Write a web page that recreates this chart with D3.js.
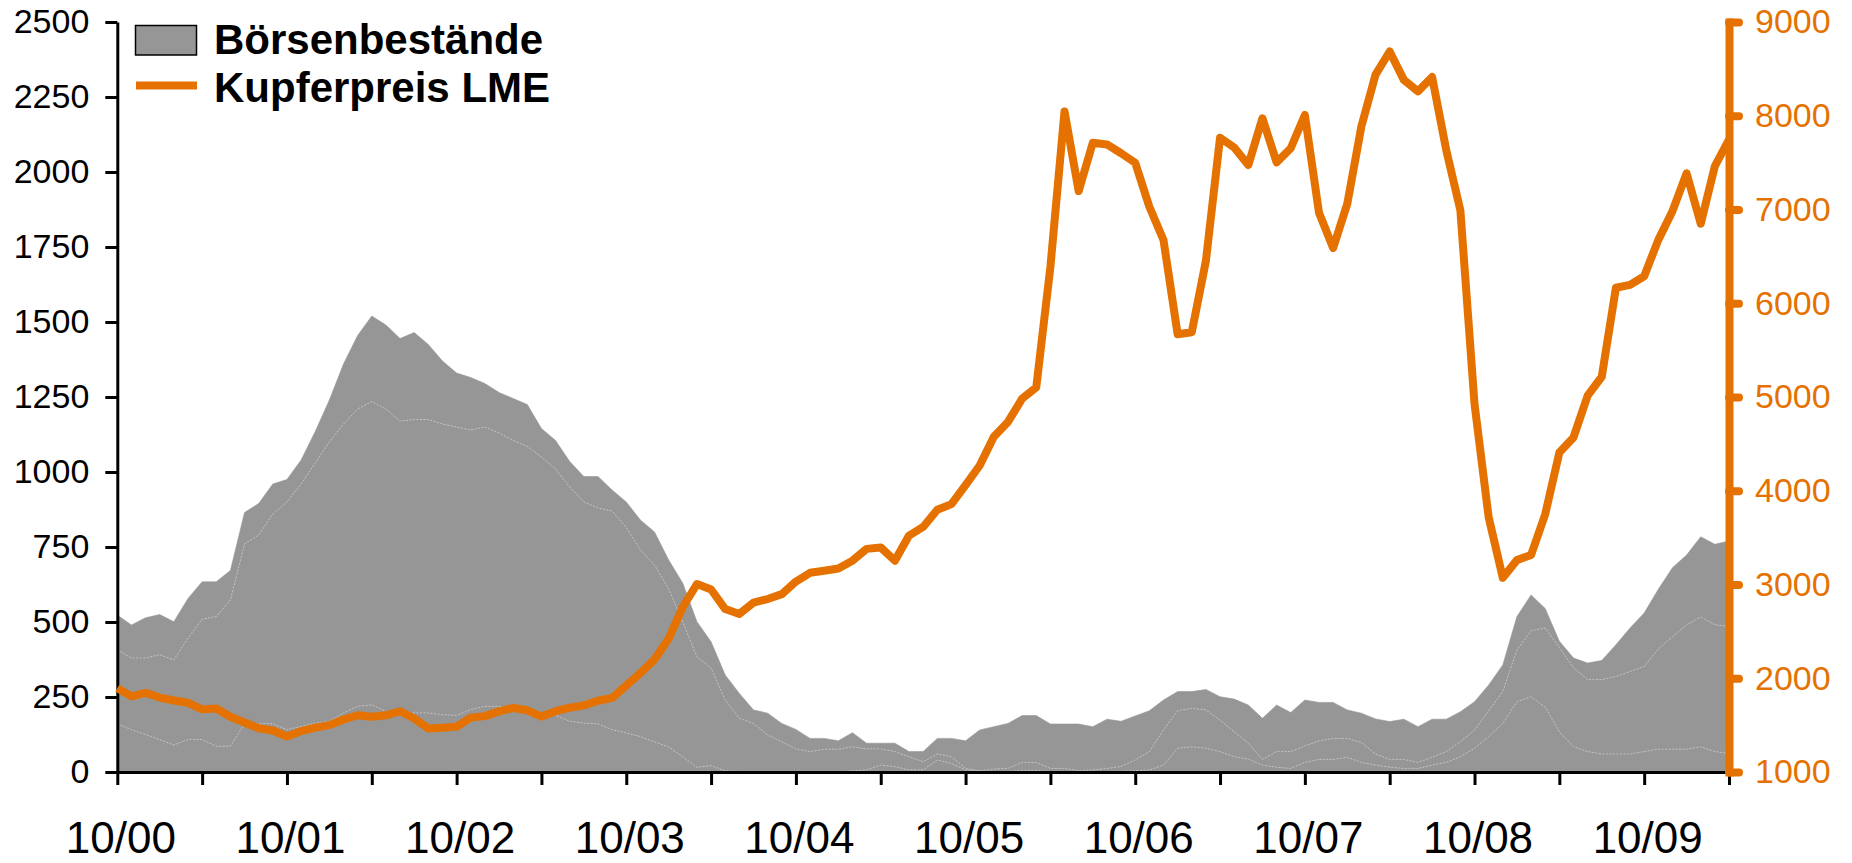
<!DOCTYPE html>
<html><head><meta charset="utf-8">
<script src="https://cdn.jsdelivr.net/npm/d3@7"></script>
<style>
html,body{margin:0;padding:0;background:#fff;}
svg{display:block;}
</style>
</head><body>
<svg id="chart" width="1852" height="863"></svg>
<script>
// ---------------- DATA ----------------
// monthly observations, October 2000 (index 0) to April 2010 (index 114)
const xTickLabels = ["10/00","10/01","10/02","10/03","10/04","10/05","10/06","10/07","10/08","10/09"];
const leftTicks = [0,250,500,750,1000,1250,1500,1750,2000,2250,2500];
const rightTicks = [1000,2000,3000,4000,5000,6000,7000,8000,9000];
const seriesNames = ["Börsenbestände","Kupferpreis LME"];

// Kupferpreis LME (USD/t, right axis)
const price = [1895,1807,1845,
1794,1763,1738,1668,1678,1590,1528,1467,1442,1379,1436,1473,
1500,1560,1605,1590,1605,1648,1570,1464,1471,1484,1580,1596,
1647,1683,1658,1591,1649,1686,1711,1760,1790,1922,2055,2201,
2423,2760,3005,2947,2738,2686,2807,2845,2897,3031,3125,3146,
3170,3254,3380,3395,3254,3522,3614,3797,3857,4059,4269,4576,
4734,4982,5103,6387,8046,7197,7712,7694,7600,7499,7029,6675,
5670,5690,6452,7766,7662,7475,7973,7503,7653,8008,6965,6589,
7061,7888,8439,8685,8383,8260,8414,7634,6990,4926,3717,3072,
3260,3315,3750,4407,4569,5014,5216,6165,6196,6288,6676,6982,
7386,6848,7463,7745];

// Börsenbestände (left axis), cumulative levels of the three stacked bands
const stocksLower = [161,141,125,108,90,108,108,86,86,161,
161,161,141,152,163,169,197,219,224,202,
197,197,197,191,189,208,219,219,210,197,
185,189,169,163,161,141,130,118,100,84,
50,16,21,4,2,0,0,0,0,0,
0,0,4,7,23,18,7,7,40,29,
7,3,2,2,5,5,2,2,0,0,
0,2,4,7,23,79,84,79,68,51,
43,23,16,12,32,42,42,49,32,23,
16,12,12,23,32,51,79,118,162,234,
251,216,134,84,68,60,60,60,68,76,
76,76,84,68,62];
const stocksUpper = [407,380,380,391,374,446,509,518,573,760,
790,860,900,960,1030,1100,1160,1210,1235,1210,
1170,1175,1175,1160,1150,1140,1150,1130,1105,1085,
1050,1010,950,900,880,870,815,740,690,610,
500,384,346,240,179,162,123,101,77,68,
76,76,84,77,77,68,51,34,60,51,
12,4,10,12,32,32,12,12,4,7,
12,18,40,68,140,204,212,207,173,134,
96,42,68,68,87,104,112,112,98,60,
42,42,32,49,68,101,140,204,268,407,
471,480,415,347,308,308,318,335,352,410,
451,490,517,491,485];
const stocksTotal = [523,490,514,525,501,578,634,634,672,865,
895,960,975,1040,1135,1240,1360,1455,1520,1490,
1445,1465,1425,1370,1330,1315,1295,1265,1245,1225,
1145,1105,1035,985,985,940,900,840,800,707,
629,501,434,323,262,207,196,162,142,112,
112,104,131,96,96,96,68,68,112,112,
104,140,151,162,188,188,160,160,160,151,
176,169,187,204,240,268,268,275,251,243,
223,179,223,198,240,232,232,207,196,177,
168,176,151,176,176,201,234,290,357,518,
590,545,436,380,363,372,424,480,530,609,
681,723,784,759,770];

// ---------------- STYLE ----------------
const FONT = '"Liberation Sans", Arial, Helvetica, sans-serif';
const GRAY = "#969696";
const ORANGE = "#E57200";
const M = {left:117.3, right:1729, top:22, bottom:772};

const svg = d3.select("#chart");
const x = d3.scaleLinear().domain([0, price.length - 1]).range([M.left, M.right]);
const yL = d3.scaleLinear().domain([0, 2500]).range([M.bottom, M.top]);
const yR = d3.scaleLinear().domain([1000, 9000]).range([M.bottom, M.top]);

// stacked bands
const rows = price.map((_, i) => ({
  i,
  a: stocksLower[i],
  b: stocksUpper[i] - stocksLower[i],
  c: stocksTotal[i] - stocksUpper[i]
}));
const stacked = d3.stack().keys(["a","b","c"])(rows);
const area = d3.area().x(d => x(d.data.i)).y0(d => yL(d[0])).y1(d => yL(d[1]));
svg.append("g").selectAll("path").data(stacked).join("path")
  .attr("d", area).attr("fill", GRAY).attr("stroke", GRAY).attr("stroke-width", 0.6);
const bound = d3.line().x(d => x(d.data.i)).y(d => yL(d[1]));
svg.append("g").selectAll("path").data(stacked.slice(0, 2)).join("path")
  .attr("d", bound).attr("fill", "none").attr("stroke", "#c2c2c2")
  .attr("stroke-width", 1).attr("stroke-dasharray", "2,1.5");

// left axis
const axL = svg.append("g").attr("transform", `translate(${M.left},0)`)
  .call(d3.axisLeft(yL).tickValues(leftTicks).tickFormat(d3.format("d"))
    .tickSize(12).tickSizeOuter(0).tickPadding(16));
axL.attr("font-family", FONT).attr("font-size", 34);
axL.select(".domain").attr("stroke", "#000").attr("stroke-width", 3);
axL.selectAll(".tick line").attr("stroke", "#000").attr("stroke-width", 3);
axL.selectAll(".tick text").attr("fill", "#000");

// bottom axis
const axB = svg.append("g").attr("transform", `translate(0,${M.bottom})`)
  .call(d3.axisBottom(x).tickValues(d3.range(0, price.length, 6)).tickSize(13).tickSizeOuter(0)
    .tickFormat(d => d % 12 === 0 ? xTickLabels[d / 12] : ""));
axB.attr("font-family", FONT).attr("font-size", 44);
axB.select(".domain").attr("stroke", "#000").attr("stroke-width", 3);
axB.selectAll(".tick line").attr("stroke", "#000").attr("stroke-width", 3);
axB.selectAll(".tick text").attr("fill", "#000").attr("y", 81).attr("dy", 0).attr("dx", 3);

// price line
svg.append("path").datum(price)
  .attr("d", d3.line().x((d, i) => x(i)).y(d => yR(d)))
  .attr("fill", "none").attr("stroke", ORANGE).attr("stroke-width", 8)
  .attr("stroke-linejoin", "round");

// right axis
const axR = svg.append("g").attr("transform", `translate(${M.right},0)`)
  .call(d3.axisRight(yR).tickValues(rightTicks).tickFormat(d3.format("d"))
    .tickSize(10).tickSizeOuter(0).tickPadding(16));
axR.attr("font-family", FONT).attr("font-size", 34);
axR.select(".domain").attr("stroke", ORANGE).attr("stroke-width", 8).attr("stroke-linecap", "square");
axR.selectAll(".tick line").attr("stroke", ORANGE).attr("stroke-width", 8).attr("stroke-linecap", "round");
axR.selectAll(".tick text").attr("fill", ORANGE);

// legend
const lg = svg.append("g").attr("font-family", FONT).attr("font-weight", "bold").attr("font-size", 42);
lg.append("rect").attr("x", 135.5).attr("y", 25.5).attr("width", 61).attr("height", 29.5)
  .attr("fill", GRAY).attr("stroke", "#000").attr("stroke-width", 1.5);
lg.append("line").attr("x1", 136).attr("x2", 197).attr("y1", 85.5).attr("y2", 85.5)
  .attr("stroke", ORANGE).attr("stroke-width", 8);
lg.append("text").attr("x", 214).attr("y", 53.5).text(seriesNames[0]);
lg.append("text").attr("x", 214).attr("y", 101.5).text(seriesNames[1]);
</script>
</body></html>
